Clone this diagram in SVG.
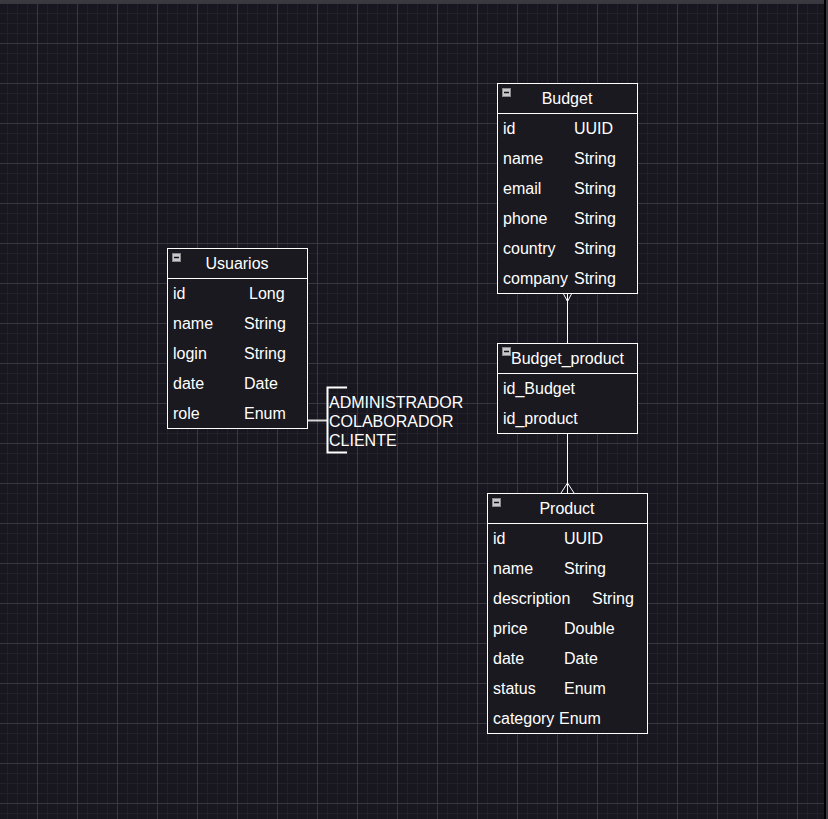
<svg xmlns="http://www.w3.org/2000/svg" width="828" height="819" viewBox="0 0 828 819">
<defs>
<pattern id="minor" x="7" y="3" width="10" height="10" patternUnits="userSpaceOnUse">
<path d="M0.5 0V10M0 0.5H10" stroke="#222028" stroke-width="1" fill="none"/>
</pattern>
<pattern id="major" x="37" y="3" width="40" height="40" patternUnits="userSpaceOnUse">
<path d="M0.5 0V40M0 0.5H40" stroke="#38363e" stroke-width="1" fill="none"/>
</pattern>
<g id="icon">
<rect x="0.5" y="0.5" width="8" height="8" fill="#c9c9cc" stroke="#8a8a8e"/>
<path d="M2 4.5H7" stroke="#111" stroke-width="1.5"/>
</g>
</defs>
<style>
.box{fill:#1a1920;stroke:#ffffff;stroke-width:1}
.t{font-family:"Liberation Sans",Arial,sans-serif;font-size:16px;fill:#ffffff}
.c{text-anchor:middle}
.conn{stroke:#ffffff;stroke-width:1;fill:none}
</style>
<rect width="828" height="819" fill="#18161e"/>
<rect width="828" height="819" fill="url(#minor)"/>
<rect width="828" height="819" fill="url(#major)"/>
<rect x="0" y="0" width="828" height="3" fill="#3a393f"/>
<rect x="824" y="0" width="2" height="819" fill="#000000"/>
<rect x="826" y="0" width="2" height="819" fill="#3a393f"/>

<g id="connectors">
<path class="conn" d="M567.5 293V343"/>
<path class="conn" d="M563 293L567.5 301.5L572 293M567.5 293V301.5"/>
<path class="conn" d="M567.5 433V493"/>
<path class="conn" d="M561 493L567.5 483L574 493"/>
<path d="M307 420.5H327" stroke="#d6d6d6" stroke-width="2"/>
</g>

<g id="usuarios">
<rect class="box" x="167.5" y="248.5" width="140" height="180"/>
<path class="conn" d="M167.5 278.5H307.5"/>
<use href="#icon" x="172" y="253"/>
<text class="t c" x="237" y="269">Usuarios</text>
<text class="t" x="173" y="299">id</text><text class="t" x="249" y="299">Long</text>
<text class="t" x="173" y="329">name</text><text class="t" x="244" y="329">String</text>
<text class="t" x="173" y="359">login</text><text class="t" x="244" y="359">String</text>
<text class="t" x="173" y="389">date</text><text class="t" x="244" y="389">Date</text>
<text class="t" x="173" y="419">role</text><text class="t" x="244" y="419">Enum</text>
</g>

<g id="role-enum">
<path d="M347 387.5H327.5V452.5H347" stroke="#ffffff" stroke-width="2" fill="none"/>
<text class="t" x="329" y="408">ADMINISTRADOR</text>
<text class="t" x="329" y="427">COLABORADOR</text>
<text class="t" x="329" y="446">CLIENTE</text>
</g>

<g id="budget">
<rect class="box" x="497.5" y="83.5" width="140" height="210"/>
<path class="conn" d="M497.5 113.5H637.5"/>
<use href="#icon" x="502" y="88"/>
<text class="t c" x="567" y="104">Budget</text>
<text class="t" x="503" y="134">id</text><text class="t" x="574" y="134">UUID</text>
<text class="t" x="503" y="164">name</text><text class="t" x="574" y="164">String</text>
<text class="t" x="503" y="194">email</text><text class="t" x="574" y="194">String</text>
<text class="t" x="503" y="224">phone</text><text class="t" x="574" y="224">String</text>
<text class="t" x="503" y="254">country</text><text class="t" x="574" y="254">String</text>
<text class="t" x="503" y="284">company</text><text class="t" x="574" y="284">String</text>
</g>

<g id="budget_product">
<rect class="box" x="497.5" y="343.5" width="140" height="90"/>
<path class="conn" d="M497.5 373.5H637.5"/>
<use href="#icon" x="502" y="347"/>
<text class="t" x="511" y="364" textLength="113" lengthAdjust="spacingAndGlyphs">Budget_product</text>
<text class="t" x="503" y="394">id_Budget</text>
<text class="t" x="503" y="424">id_product</text>
</g>

<g id="product">
<rect class="box" x="487.5" y="493.5" width="160" height="240"/>
<path class="conn" d="M487.5 523.5H647.5"/>
<use href="#icon" x="492" y="498"/>
<text class="t c" x="567" y="514">Product</text>
<text class="t" x="493" y="544">id</text><text class="t" x="564" y="544">UUID</text>
<text class="t" x="493" y="574">name</text><text class="t" x="564" y="574">String</text>
<text class="t" x="493" y="604">description</text><text class="t" x="592" y="604">String</text>
<text class="t" x="493" y="634">price</text><text class="t" x="564" y="634">Double</text>
<text class="t" x="493" y="664">date</text><text class="t" x="564" y="664">Date</text>
<text class="t" x="493" y="694">status</text><text class="t" x="564" y="694">Enum</text>
<text class="t" x="493" y="724">category</text><text class="t" x="559" y="724">Enum</text>
</g>
</svg>
